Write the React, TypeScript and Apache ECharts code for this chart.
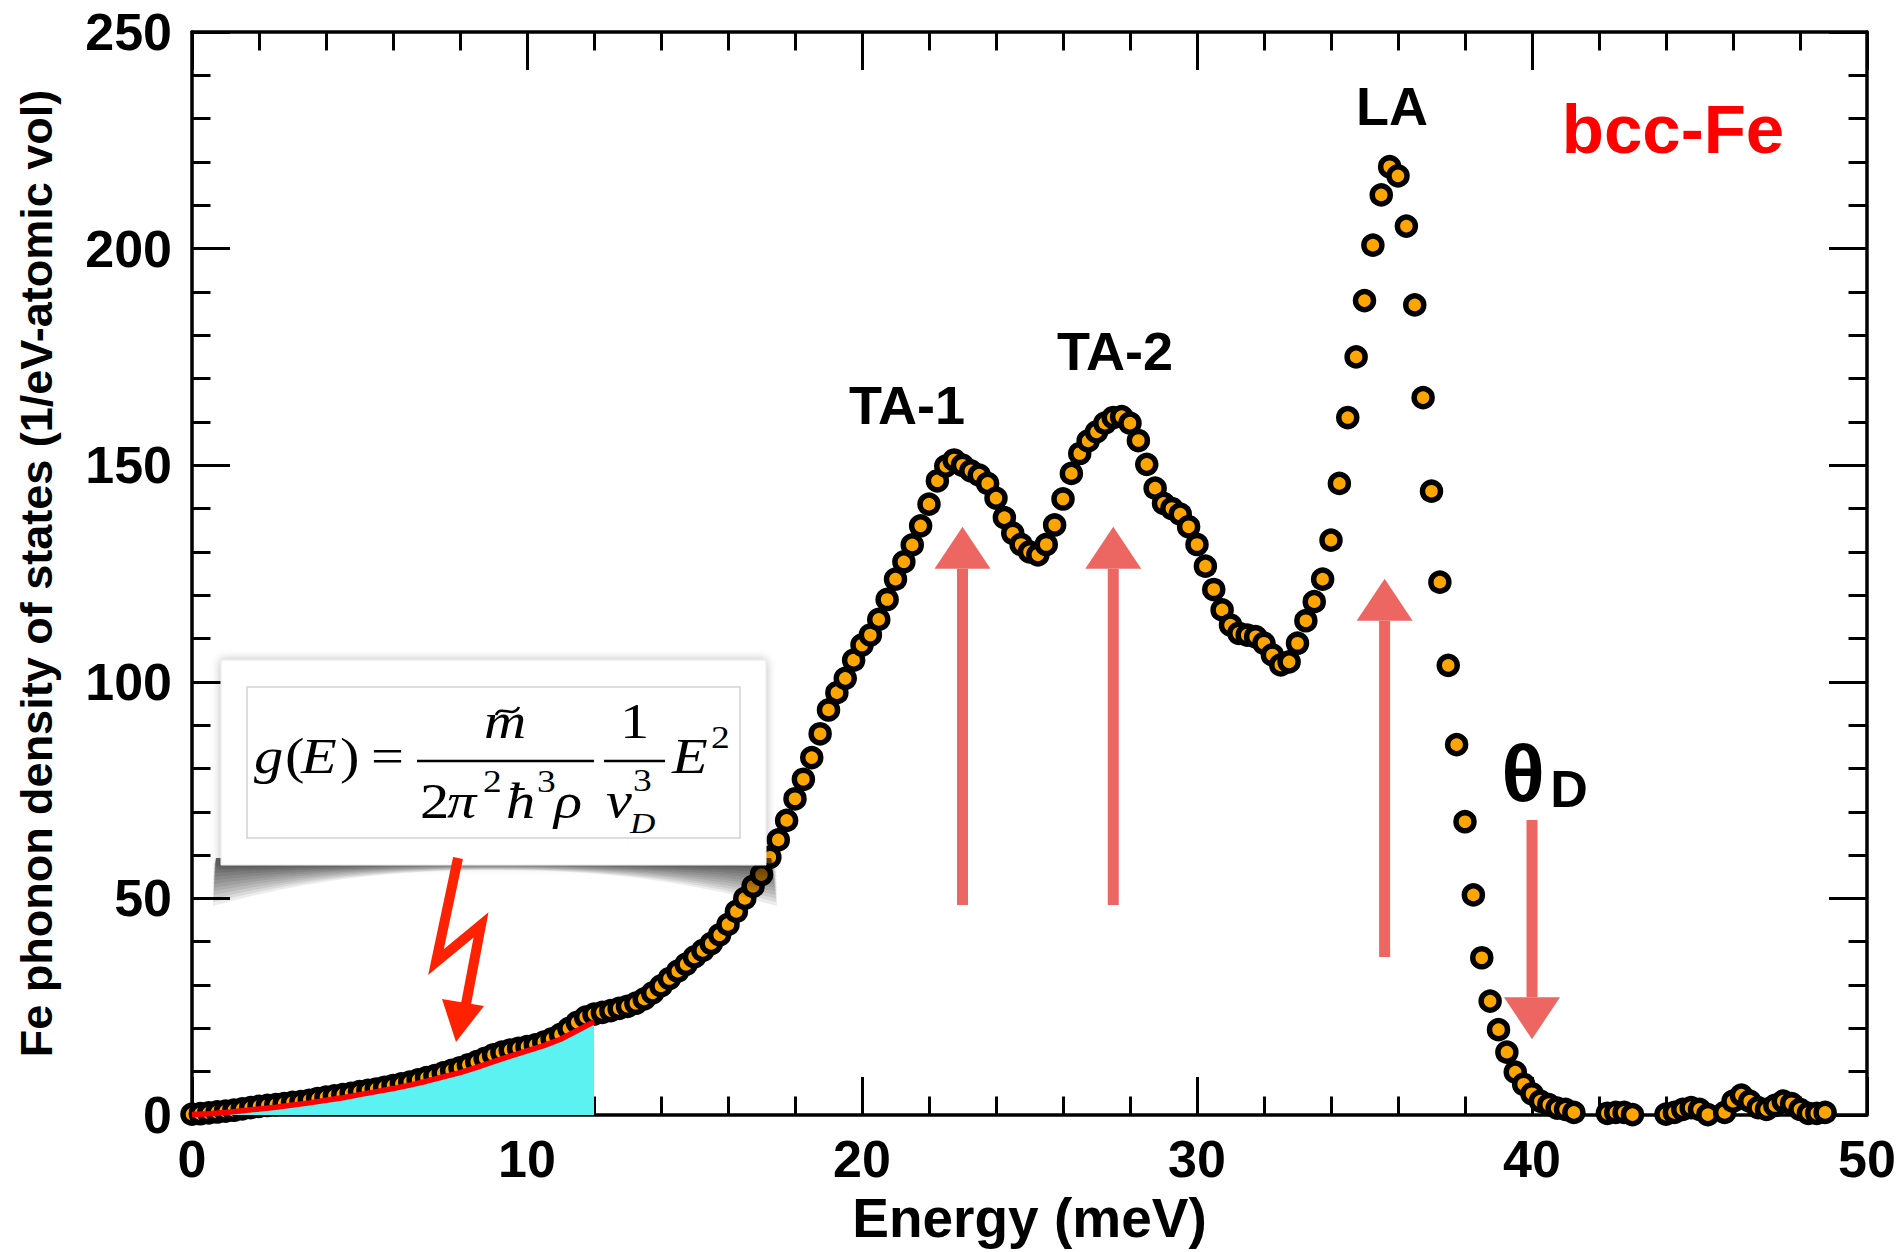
import React, { useEffect, useRef } from "react";
import * as echarts from "echarts";

// Phonon density of states of bcc-Fe, [energy meV, g(E) 1/eV-atomic vol]
const dosAcoustic: [number, number][] = [
  [0, 0.2], [0.25, 0.3], [0.5, 0.5], [0.75, 0.7], [1, 0.9], [1.25, 1.1], [1.5, 1.4], [1.75, 1.7],
  [2, 2.0], [2.25, 2.2], [2.5, 2.4], [2.75, 2.6], [3, 2.9], [3.25, 3.1], [3.5, 3.4], [3.75, 3.8],
  [4, 4.1], [4.25, 4.4], [4.5, 4.7], [4.75, 5.0], [5, 5.4], [5.25, 5.7], [5.5, 6.0], [5.75, 6.4],
  [6, 6.8], [6.25, 7.2], [6.5, 7.6], [6.75, 8.1], [7, 8.6], [7.25, 9.1], [7.5, 9.7], [7.75, 10.3],
  [8, 10.9], [8.25, 11.6], [8.5, 12.3], [8.75, 13.1], [9, 13.9], [9.25, 14.5], [9.5, 15.0], [9.75, 15.4],
  [10, 15.8], [10.25, 16.2], [10.5, 16.8], [10.75, 17.6], [11, 18.6], [11.25, 20.0], [11.5, 21.4], [11.75, 22.6],
  [12, 23.3],
];

const dosTransverse: [number, number][] = [
  [12.25, 23.7], [12.5, 24.1], [12.75, 24.6], [13, 25.1], [13.25, 25.8], [13.5, 26.8], [13.75, 28.2],
  [14, 29.8], [14.25, 31.5], [14.5, 33.2], [14.75, 34.8], [15, 36.5], [15.25, 38.0], [15.5, 39.6], [15.75, 41.6],
  [16, 44.0], [16.25, 47.0], [16.5, 50.0], [16.75, 52.8], [17, 55.5], [17.25, 59.5], [17.5, 63.5], [17.75, 68.0],
  [18, 73.0], [18.25, 77.5], [18.5, 82.5], [18.75, 88.0], [19, 93.5], [19.25, 97.5], [19.5, 100.8], [19.75, 105.0],
  [20, 108.5], [20.25, 110.8], [20.5, 114.4], [20.75, 119.0], [21, 123.7], [21.25, 127.7], [21.5, 131.6], [21.75, 136.0],
  [22, 141.0], [22.25, 146.4], [22.5, 149.8], [22.75, 151.2], [23, 150.0], [23.25, 148.7], [23.5, 147.7], [23.75, 145.8],
  [24, 142.4], [24.25, 137.9], [24.5, 134.3], [24.75, 131.7], [25, 130.0], [25.25, 129.3], [25.5, 131.7], [25.75, 136.2],
  [26, 142.2], [26.25, 148.1], [26.5, 152.7], [26.75, 155.6], [27, 157.7], [27.25, 159.7], [27.5, 161.0], [27.75, 161.2],
  [28, 159.7], [28.25, 155.7], [28.5, 150.2], [28.75, 144.7], [29, 141.2], [29.25, 140.0], [29.5, 138.7], [29.75, 135.8],
  [30, 131.7], [30.25, 126.7], [30.5, 121.3], [30.75, 116.6], [31, 113.1], [31.25, 111.2], [31.5, 110.8], [31.75, 110.4],
  [32, 108.9], [32.25, 106.2], [32.5, 103.9], [32.75, 104.6], [33, 108.9], [33.25, 114.1], [33.5, 118.5], [33.75, 123.7],
  [34, 132.7], [34.25, 145.8],
];

const dosLongitudinal: [number, number][] = [
  [34.5, 161.0], [34.75, 175.0], [35, 188.0], [35.25, 200.8], [35.5, 212.4], [35.75, 218.9], [36, 216.8], [36.25, 205.2],
  [36.5, 187.0], [36.75, 165.6], [37, 144.0], [37.25, 123.0], [37.5, 103.8], [37.75, 85.5], [38, 67.7], [38.25, 50.8],
  [38.5, 36.3], [38.75, 26.3], [39, 19.7], [39.25, 14.5], [39.5, 9.9], [39.75, 7.1], [40, 4.9], [40.25, 3.2],
  [40.5, 2.4], [40.75, 1.6], [41, 1.3], [41.25, 0.6],
];

const dosTail: [number, number][] = [
  [42.25, 0.4], [42.5, 0.6], [42.75, 0.6], [43, 0.1],
  [44, 0.2], [44.25, 0.6], [44.5, 1.3], [44.75, 1.7], [45, 1.3], [45.25, 0.1],
  [45.75, 0.6], [46, 3.2], [46.25, 4.6], [46.5, 3.2], [46.75, 1.7], [47, 1.3], [47.25, 2.2],
  [47.5, 3.2], [47.75, 2.6], [48, 1.3], [48.25, 0.4], [48.5, 0.4], [48.75, 0.6],
];

// Low-energy Debye region (red curve, shaded beneath)
const debyeEnergy = [0, 0.5, 1, 1.5, 2, 2.5, 3, 3.5, 4, 4.5, 5, 5.5, 6, 6.5, 7, 7.5, 8, 8.5, 9, 9.5, 10, 10.5, 11, 11.5, 12];
const debyeDos = [0.1, 0.3, 0.6, 1.0, 1.4, 1.8, 2.3, 2.8, 3.4, 4.0, 4.7, 5.4, 6.1, 6.9, 7.8, 8.8, 9.8, 11.0, 12.3, 13.6, 14.8, 16.0, 17.5, 19.5, 21.5];

// Peak markers: [energy, tail value, head value]
const peakArrows: [number, number, number][] = [
  [23.0, 48.5, 135.8],
  [27.5, 48.5, 135.8],
  [35.6, 36.5, 123.8],
  [40.0, 68.1, 17.5],
];

const xTicks = [0, 10, 20, 30, 40, 50];
const yTicks = [0, 50, 100, 150, 200, 250];

const W = 1904;
const H = 1252;
const SANS = '"Liberation Sans", Arial, Helvetica, sans-serif';
const SERIF = '"Liberation Serif", "Times New Roman", serif';
const ARROW_COLOR = "#ED6762";
const FORMULA_STRETCH = 1.17;

type Piece = { t: string; x: number; b: number; s: number; it?: boolean };

// g(E) = m~ / (2 pi^2 hbar^3 rho) * 1 / v_D^3 * E^2
const formulaPieces: Piece[] = [
  { t: "g", x: 254, b: 773, s: 50, it: true },
  { t: "(", x: 285, b: 773, s: 50 },
  { t: "E", x: 301, b: 773, s: 50, it: true },
  { t: ")", x: 340, b: 773, s: 50 },
  { t: "=", x: 371, b: 773, s: 50 },
  { t: "m", x: 484, b: 738, s: 50, it: true },
  { t: "2", x: 420, b: 818, s: 50 },
  { t: "π", x: 447, b: 818, s: 50, it: true },
  { t: "2", x: 483, b: 792, s: 32 },
  { t: "ħ", x: 506, b: 818, s: 50, it: true },
  { t: "3", x: 537, b: 792, s: 32 },
  { t: "ρ", x: 554, b: 818, s: 50, it: true },
  { t: "1", x: 620, b: 738, s: 50 },
  { t: "v", x: 606, b: 817, s: 50, it: true },
  { t: "3", x: 633, b: 791, s: 32 },
  { t: "D", x: 630, b: 833, s: 30, it: true },
  { t: "E", x: 672, b: 773, s: 50, it: true },
  { t: "2", x: 711, b: 748, s: 32 },
];

function buildGraphics(): any[] {
  const els: any[] = [];

  // lifted-corner shadow under the formula card
  const layers = 12;
  for (let i = 0; i < layers; i++) {
    const k = (i + 1) / layers;
    const corner = 44 * k;
    const mid = 8 * k;
    const pts: number[][] = [[216, 858]];
    const n = 30;
    for (let j = 0; j <= n; j++) {
      const t = j / n;
      const xx = 213 + t * (777 - 213);
      const u = Math.abs(2 * t - 1);
      const d = mid + (corner - mid) * Math.pow(u, 2.2);
      pts.push([xx, 862 + d]);
    }
    pts.push([771, 858]);
    els.push({
      type: "polygon",
      shape: { points: pts },
      style: { fill: "rgba(0,0,0,0.075)" },
      silent: true,
      z: 10,
    });
  }

  els.push({
    type: "rect",
    shape: { x: 221, y: 660, width: 545, height: 205 },
    style: {
      fill: "#ffffff",
      stroke: "#e6e6e6",
      lineWidth: 1,
      shadowBlur: 10,
      shadowColor: "rgba(0,0,0,0.28)",
    },
    z: 11,
  });
  els.push({
    type: "rect",
    shape: { x: 247, y: 687, width: 493, height: 151 },
    style: { fill: "#ffffff", stroke: "#d2d2d2", lineWidth: 1.5 },
    z: 12,
  });

  formulaPieces.forEach((p) => {
    els.push({
      type: "text",
      x: p.x,
      y: p.b - 0.3375 * p.s,
      scaleX: FORMULA_STRETCH,
      style: {
        text: p.t,
        font: `${p.it ? "italic " : ""}${p.s}px ${SERIF}`,
        fill: "#000",
        align: "left",
        verticalAlign: "middle",
      },
      z: 13,
    });
  });
  // tilde accent over m
  els.push({
    type: "bezierCurve",
    shape: { x1: 496, y1: 715, cpx1: 501, cpy1: 704, cpx2: 513, cpy2: 719, x2: 519, y2: 707 },
    style: { stroke: "#000", lineWidth: 2.6, fill: null },
    z: 13,
  });
  els.push({ type: "line", shape: { x1: 417, y1: 761, x2: 594, y2: 761 }, style: { stroke: "#000", lineWidth: 2.6 }, z: 13 });
  els.push({ type: "line", shape: { x1: 604, y1: 761, x2: 665, y2: 761 }, style: { stroke: "#000", lineWidth: 2.6 }, z: 13 });

  // lightning arrow pointing at the Debye region
  els.push({
    type: "polyline",
    shape: { points: [[458, 858], [436, 962], [481, 925], [466, 1004]] },
    style: { stroke: "#FF2200", lineWidth: 10, lineJoin: "miter", fill: null },
    z: 14,
  });
  els.push({
    type: "polygon",
    shape: { points: [[442, 999], [456, 1042], [484, 1006]] },
    style: { fill: "#FF2200" },
    z: 14,
  });

  const label = (text: string, x: number, y: number, size: number, color = "#000") => ({
    type: "text",
    x,
    y,
    style: { text, font: `bold ${size}px ${SANS}`, fill: color, align: "center", verticalAlign: "middle" },
    z: 15,
  });
  els.push(label("TA-1", 907, 405, 54));
  els.push(label("TA-2", 1115, 351, 54));
  els.push(label("LA", 1392, 106, 54));
  els.push(label("bcc-Fe", 1673, 129, 69, "#FF0000"));
  els.push(label("θ", 1523, 773, 80));
  els.push(label("D", 1569, 789, 52));

  return els;
}

export default function App() {
  const ref = useRef<HTMLDivElement>(null);

  useEffect(() => {
    if (!ref.current) return;
    const chart = echarts.init(ref.current, null, { renderer: "svg", width: W, height: H });

    const axisLineStyle = { color: "#000", width: 3.5 };
    const tickStyle = { color: "#000", width: 3 };
    const labelStyle = { fontFamily: SANS, fontWeight: "bold", fontSize: 52, color: "#000" };

    const xBase = {
      type: "value",
      min: xTicks[0],
      max: xTicks[xTicks.length - 1],
      interval: xTicks[1] - xTicks[0],
      axisLine: { show: true, onZero: false, lineStyle: axisLineStyle },
      axisTick: { show: true, inside: true, length: 38, lineStyle: tickStyle },
      minorTick: { show: true, splitNumber: 5, length: 18.5, lineStyle: tickStyle },
      splitLine: { show: false },
      minorSplitLine: { show: false },
    };
    const yBase = {
      type: "value",
      min: yTicks[0],
      max: yTicks[yTicks.length - 1],
      interval: yTicks[1] - yTicks[0],
      axisLine: { show: true, onZero: false, lineStyle: axisLineStyle },
      axisTick: { show: true, inside: true, length: 38, lineStyle: tickStyle },
      minorTick: { show: true, splitNumber: 5, length: 18.5, lineStyle: tickStyle },
      splitLine: { show: false },
      minorSplitLine: { show: false },
    };

    const allDos = [...dosAcoustic, ...dosTransverse, ...dosLongitudinal, ...dosTail];

    chart.setOption({
      animation: false,
      backgroundColor: "#ffffff",
      grid: { left: 192, right: 37, top: 32, bottom: 137, containLabel: false, outerBoundsMode: "none" },
      xAxis: [
        {
          ...xBase,
          position: "bottom",
          name: "Energy (meV)",
          nameLocation: "middle",
          nameGap: 75,
          nameTextStyle: { fontFamily: SANS, fontWeight: "bold", fontSize: 55, color: "#000" },
          axisLabel: { ...labelStyle, margin: 18 },
        },
        { ...xBase, position: "top", axisLabel: { show: false } },
      ],
      yAxis: [
        {
          ...yBase,
          position: "left",
          name: "Fe phonon density of states (1/eV-atomic vol)",
          nameLocation: "middle",
          nameGap: 133,
          nameTextStyle: { fontFamily: SANS, fontWeight: "bold", fontSize: 45, color: "#000" },
          axisLabel: { ...labelStyle, margin: 20 },
        },
        { ...yBase, position: "right", axisLabel: { show: false } },
      ],
      series: [
        {
          type: "custom",
          xAxisIndex: 0,
          yAxisIndex: 0,
          data: peakArrows,
          clip: false,
          z: 1,
          renderItem: (_params: any, api: any) => {
            const x = api.value(0);
            const tail = api.coord([x, api.value(1)]);
            const head = api.coord([x, api.value(2)]);
            const dir = head[1] < tail[1] ? -1 : 1;
            const headLen = 42;
            const headHalf = 28;
            const shaftHalf = 5.5;
            const baseY = head[1] - dir * headLen;
            return {
              type: "group",
              children: [
                {
                  type: "rect",
                  shape: {
                    x: tail[0] - shaftHalf,
                    y: Math.min(tail[1], baseY),
                    width: shaftHalf * 2,
                    height: Math.abs(baseY - tail[1]),
                  },
                  style: { fill: ARROW_COLOR },
                },
                {
                  type: "polygon",
                  shape: {
                    points: [
                      [head[0] - headHalf, baseY],
                      [head[0], head[1]],
                      [head[0] + headHalf, baseY],
                    ],
                  },
                  style: { fill: ARROW_COLOR },
                },
              ],
            };
          },
        },
        {
          type: "scatter",
          xAxisIndex: 0,
          yAxisIndex: 0,
          data: allDos,
          symbol: "circle",
          symbolSize: 18,
          clip: false,
          itemStyle: { color: "#FFA500", borderColor: "#000", borderWidth: 5.5, opacity: 1 },
          z: 3,
        },
        {
          type: "line",
          xAxisIndex: 0,
          yAxisIndex: 0,
          data: debyeEnergy.map((e, i) => [e, debyeDos[i]]),
          showSymbol: false,
          symbol: "none",
          lineStyle: { color: "#FF0000", width: 5.5 },
          areaStyle: { color: "#5CF2F2", opacity: 1 },
          z: 4,
        },
      ],
      graphic: buildGraphics(),
    });

    return () => chart.dispose();
  }, []);

  return <div ref={ref} style={{ position: "fixed", left: 0, top: 0, width: W, height: H }} />;
}
